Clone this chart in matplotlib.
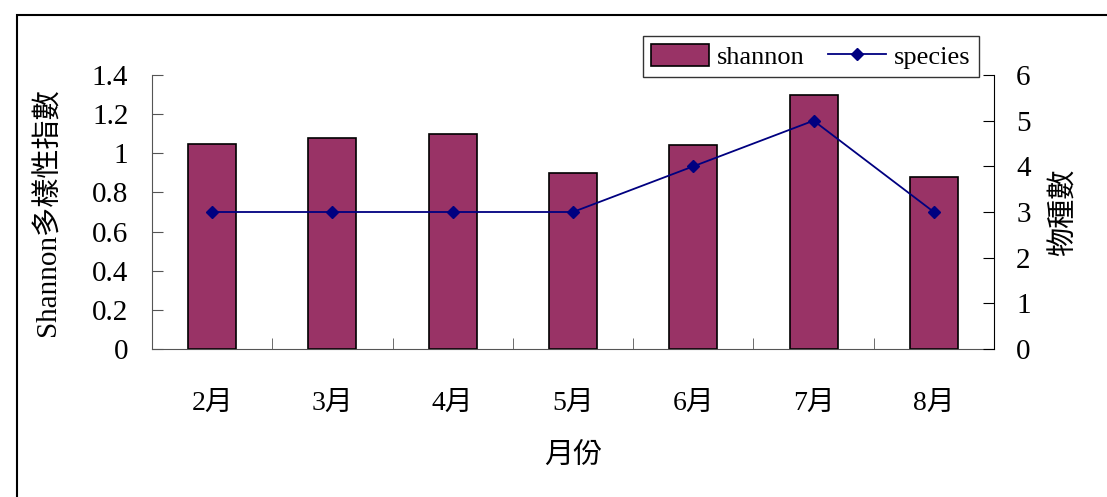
import numpy as np
import matplotlib.pyplot as plt
from matplotlib.lines import Line2D
from matplotlib.patches import Patch, Rectangle

plt.rcParams['font.family'] = ['Liberation Serif', 'Noto Sans CJK TC']

months = ['2月', '3月', '4月', '5月', '6月', '7月', '8月']
shannon = [1.05, 1.08, 1.10, 0.90, 1.04, 1.30, 0.88]
species = [3, 3, 3, 3, 4, 5, 3]

fig = plt.figure(figsize=(11.07, 4.97), dpi=100)
ax = fig.add_axes([152 / 1107, 1 - 349 / 497, (994 - 152) / 1107, (349 - 75) / 497])

x = np.arange(len(months))
ax.bar(x, shannon, width=0.4, color='#993366', edgecolor='black', linewidth=1.2, zorder=2)
ax.set_xlim(-0.5, len(months) - 0.5)
ax.set_ylim(0, 1.4)
ax.set_yticks(np.arange(0, 1.41, 0.2))
ax.set_yticklabels(['0', '0.2', '0.4', '0.6', '0.8', '1', '1.2', '1.4'])
ax.set_xticks(x)
ax.set_xticklabels(months)
ax.set_xticks(np.arange(-0.5, len(months), 1), minor=True)
ax.tick_params(axis='x', which='major', length=0, pad=30, labelsize=20)
ax.tick_params(axis='x', which='minor', direction='in', length=8, color='#555555')
ax.tick_params(axis='y', direction='in', length=8, labelsize=21, pad=17, color='#555555')
ax.spines['top'].set_visible(False)
ax.spines['right'].set_visible(False)
ax.spines['left'].set_color('#555555')
ax.spines['bottom'].set_color('#555555')
ax.set_ylabel('Shannon多樣性指數', fontsize=21, labelpad=22)
ax.set_xlabel('月份', fontsize=21, labelpad=20)

ax2 = ax.twinx()
ax2.plot(x, species, color='#000080', linewidth=1.3, marker='D', markersize=6,
         markerfacecolor='#000080', zorder=3)
ax2.set_ylim(0, 6)
ax2.set_yticks(range(0, 7))
ax2.tick_params(axis='y', direction='in', length=8, labelsize=21, pad=16)
ax2.spines['top'].set_visible(False)
ax2.spines['left'].set_visible(False)
ax2.spines['bottom'].set_visible(False)
ax2.set_ylabel('物種數', fontsize=21, labelpad=14)

handles = [Patch(facecolor='#993366', edgecolor='black', linewidth=1.2),
           Line2D([], [], color='#000080', marker='D', markersize=6, linewidth=1.3)]
leg = fig.legend(handles, ['shannon', 'species'], loc='upper left', ncol=2,
                 bbox_to_anchor=(643 / 1107, 1 - 36 / 497), fontsize=19,
                 frameon=True, fancybox=False, edgecolor='black',
                 handlelength=2.2, handleheight=0.9, handletextpad=0.3,
                 columnspacing=0.9, borderpad=0.3, borderaxespad=0)
leg.get_frame().set_linewidth(1.0)

fig.patches.append(Rectangle((17 / 1107, -0.01), 1, 1 - 15 / 497 + 0.01,
                             transform=fig.transFigure, fill=False,
                             edgecolor='black', linewidth=1.5))

plt.savefig('out.png', dpi=100)
